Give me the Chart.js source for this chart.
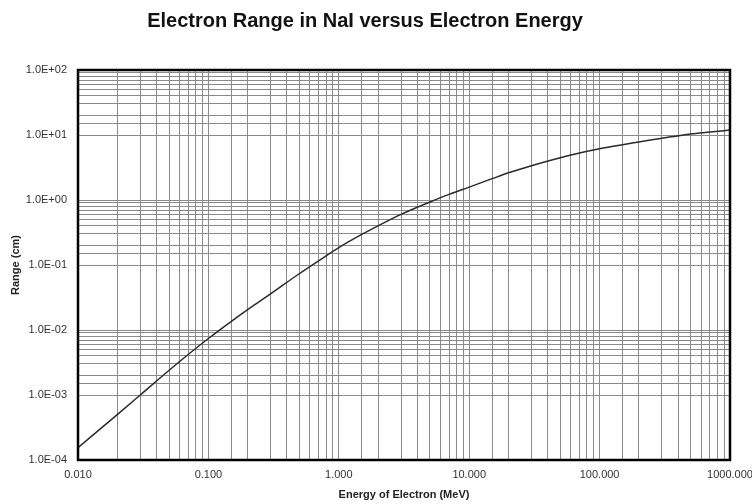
<!DOCTYPE html>
<html>
<head>
<meta charset="utf-8">
<script src="https://cdn.jsdelivr.net/npm/chart.js@4.4.0/dist/chart.umd.min.js"></script>
<style>
  html, body { margin: 0; padding: 0; background: #fff; }
  #wrap { width: 752px; height: 504px; }
</style>
</head>
<body>
<div id="wrap"><canvas id="chart" width="752" height="504"></canvas></div>
<script>
// Energy of electron (MeV) and range in NaI (cm)
const energies = [0.01, 0.02, 0.03, 0.05, 0.07, 0.1, 0.15, 0.2, 0.3, 0.5, 0.7, 1, 1.5, 2, 3, 5, 7, 10, 15, 20, 30, 50, 70, 100, 150, 200, 300, 500, 700, 1000];
const ranges = [1.55e-4, 5.0e-4, 1.0e-3, 2.4e-3, 4.2e-3, 7.4e-3, 1.36e-2, 0.0206, 0.036, 0.074, 0.116, 0.185, 0.295, 0.40, 0.60, 0.93, 1.22, 1.58, 2.13, 2.62, 3.37, 4.46, 5.28, 6.15, 7.1, 7.8, 8.9, 10.4, 11.1, 11.9];

// tick labels, one per decade
const xTickLabels = ['0.010', '0.100', '1.000', '10.000', '100.000', '1000.000'];
const yTickLabels = ['1.0E-04', '1.0E-03', '1.0E-02', '1.0E-01', '1.0E+00', '1.0E+01', '1.0E+02'];

// decades of the y axis that show minor gridlines (by lower exponent)
const yMinorDecades = [-3, -1, 1];

const gridGray = '#8a8a8a';
const fontFamily = 'Liberation Sans, Arial, sans-serif';

function isMajor(v) {
  const l = Math.log10(v);
  return Math.abs(l - Math.round(l)) < 1e-6;
}

// frame around the plot area
const framePlugin = {
  id: 'frame',
  afterDatasetsDraw(chart) {
    const a = chart.chartArea;
    const ctx = chart.ctx;
    ctx.save();
    ctx.strokeStyle = '#000';
    ctx.lineWidth = 2.5;
    ctx.strokeRect(a.left, a.top, a.right - a.left, a.bottom - a.top);
    ctx.restore();
  }
};

const points = energies.map((e, i) => ({ x: e, y: ranges[i] }));

new Chart(document.getElementById('chart'), {
  type: 'line',
  data: {
    datasets: [{
      data: points,
      borderColor: '#2a2a2a',
      borderWidth: 1.5,
      pointRadius: 0,
      cubicInterpolationMode: 'monotone',
      fill: false
    }]
  },
  options: {
    responsive: false,
    animation: false,
    layout: { padding: { left: 0, right: 22, top: 0, bottom: 0 } },
    plugins: {
      legend: { display: false },
      tooltip: { enabled: false },
      title: {
        display: true,
        text: 'Electron Range in NaI versus Electron Energy',
        color: '#111',
        font: { family: fontFamily, size: 20, weight: 'bold' },
        padding: { top: 9, bottom: 37 }
      }
    },
    scales: {
      x: {
        type: 'logarithmic',
        min: 0.01,
        max: 1000,
        afterFit(scale) {
          scale.height = 44;
          scale.paddingLeft = 0;
          scale.paddingRight = 0;
        },
        grid: {
          color: gridGray,
          lineWidth: 1,
          drawTicks: false
        },
        border: { display: false },
        ticks: {
          autoSkip: false,
          maxRotation: 0,
          padding: 8,
          color: '#333',
          font: { family: fontFamily, size: 11 },
          callback(v) {
            if (!isMajor(v)) return '';
            return xTickLabels[Math.round(Math.log10(v)) + 2];
          }
        },
        title: {
          display: true,
          text: 'Energy of Electron (MeV)',
          color: '#222',
          font: { family: fontFamily, size: 11, weight: 'bold' },
          padding: { top: 0, bottom: 2 }
        }
      },
      y: {
        type: 'logarithmic',
        min: 1e-4,
        max: 100,
        afterFit(scale) { scale.width = 78; },
        grid: {
          drawTicks: false,
          lineWidth: 1,
          color(ctx) {
            const v = ctx.tick && ctx.tick.value;
            if (!v) return gridGray;
            if (isMajor(v)) return gridGray;
            const dec = Math.floor(Math.log10(v) + 1e-9);
            return yMinorDecades.includes(dec) ? gridGray : 'rgba(0,0,0,0)';
          }
        },
        border: { display: false },
        ticks: {
          autoSkip: false,
          padding: 11,
          color: '#333',
          font: { family: fontFamily, size: 11 },
          callback(v) {
            if (!isMajor(v)) return '';
            return yTickLabels[Math.round(Math.log10(v)) + 4];
          }
        },
        title: {
          display: true,
          text: 'Range (cm)',
          color: '#222',
          font: { family: fontFamily, size: 11, weight: 'bold' },
          padding: { top: 9, bottom: 0 }
        }
      }
    }
  },
  plugins: [framePlugin]
});
</script>
</body>
</html>
